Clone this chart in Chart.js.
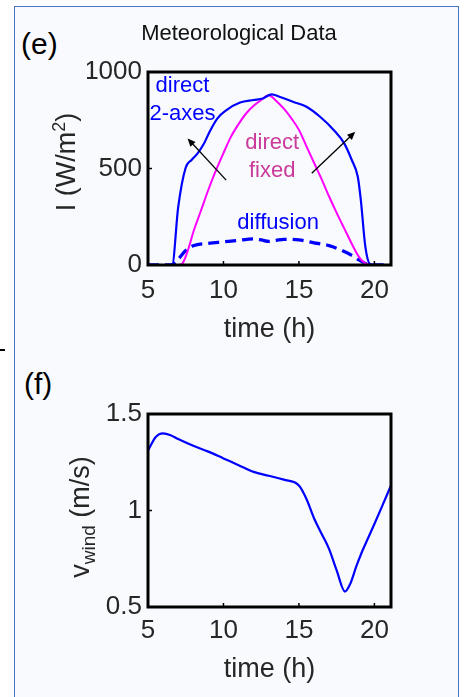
<!DOCTYPE html>
<html>
<head>
<title>Meteorological Data</title>
<script src="https://cdn.jsdelivr.net/npm/chart.js@4.4.0/dist/chart.umd.min.js"></script>
<style>
    body { margin: 0; width: 465px; height: 697px; overflow: hidden; position: relative; background: #fff;
           font-family: "Liberation Sans", Arial, sans-serif; }
    .frame { position: absolute; left: 14px; top: 6px; width: 443px; height: 720px;
             border: 1px solid #4a72c4; background: #f9fafd; }
    .dash { position: absolute; left: 0; top: 349px; width: 5px; height: 2px; background: #000; }
    .panel { position: absolute; font-size: 30px; line-height: 1; color: #000; }
    canvas { position: absolute; left: 0; }
</style>
</head>
<body>
<div class="frame"></div>
<div class="dash"></div>
<div class="panel" style="left:21px; top:29px;">(e)</div>
<div class="panel" style="left:24px; top:369px;">(f)</div>
<canvas id="irr_chart" style="top:0" width="465" height="350"></canvas>
<canvas id="wind_chart" style="top:350px" width="465" height="347"></canvas>

<script>
    // time axis ticks (h)
    const timeTicks = [5, 10, 15, 20];
    const irrTicks = [0, 500, 1000];
    const windTicks = [0.5, 1, 1.5];

    // direct irradiance, 2-axes tracking (W/m2)
    const twoAxesTime = [5, 6, 6.6, 7.0, 7.5, 7.9, 8.3, 8.7, 9.1, 9.6, 10.2, 11.1, 12.0, 12.6, 13.2, 13.7, 14.6, 15.5, 16.4, 17.3, 18.0, 18.5, 18.9, 19.1, 19.4, 19.7, 20, 21.1];
    const twoAxesIrr  = [0, 0, 0, 300, 505, 545, 580, 628, 693, 760, 803, 842, 855, 863, 884, 872, 846, 820, 768, 700, 630, 544, 457, 337, 95, 5, 0, 0];

    // direct irradiance, fixed panel (W/m2)
    const fixedTime = [5, 7, 7.3, 7.7, 8.0, 8.5, 9, 9.5, 10, 10.5, 11, 11.5, 12, 12.5, 13, 13.5, 14, 14.5, 15, 15.5, 16, 16.5, 17, 17.5, 18, 18.5, 19, 19.5, 20, 21.1];
    const fixedIrr  = [0, 0, 10, 90, 170, 280, 390, 490, 580, 665, 730, 785, 825, 855, 880, 850, 810, 760, 700, 615, 530, 445, 355, 270, 190, 110, 40, 5, 0, 0];

    // diffuse irradiance (W/m2)
    const diffTime = [5, 6.5, 7, 7.5, 8, 9, 10, 11, 12, 12.5, 13, 13.5, 14, 15, 16, 17, 18, 18.5, 19, 19.5, 20, 21.1];
    const diffIrr  = [0, 0, 30, 75, 100, 112, 120, 128, 135, 130, 122, 128, 133, 130, 115, 100, 70, 50, 25, 5, 0, 0];

    // wind speed (m/s)
    const windTime  = [5, 5.5, 6, 6.5, 7, 8, 9, 10, 11, 12, 13, 14, 15, 15.5, 16, 16.5, 17, 17.5, 18.05, 18.4, 18.8, 19.2, 19.6, 20.0, 20.5, 21.1];
    const windSpeed = [1.31, 1.38, 1.40, 1.39, 1.37, 1.335, 1.305, 1.27, 1.235, 1.20, 1.18, 1.16, 1.13, 1.06, 0.96, 0.88, 0.80, 0.69, 0.58, 0.62, 0.71, 0.79, 0.86, 0.93, 1.02, 1.13];

    const BLUE = '#0000ff';
    const MAGENTA = '#ff00ff';
    const TEXT = '#262626';

    Chart.defaults.font.family = '"Liberation Sans", Arial, sans-serif';
    Chart.defaults.color = TEXT;

    function pts(xs, ys) {
        return xs.map((x, i) => ({ x: x, y: ys[i] }));
    }

    // text and arrows inside the irradiance plot, in data units
    const notes = [
        { text: 'direct', x: 5.5, y: 930, color: BLUE, align: 'left' },
        { text: '2-axes', x: 5.1, y: 782, color: BLUE, align: 'left' },
        { text: 'direct', x: 13.23, y: 632, color: '#c93a9b', align: 'center' },
        { text: 'fixed', x: 13.23, y: 487, color: '#c93a9b', align: 'center' },
        { text: 'diffusion', x: 13.62, y: 218, color: BLUE, align: 'center' }
    ];
    const arrows = [
        { from: [10.18, 440], to: [7.62, 656] },
        { from: [15.85, 475], to: [18.73, 690] }
    ];

    const boxPlugin = {
        id: 'box',
        afterDatasetsDraw(chart) {
            const { ctx, chartArea: a, scales } = chart;
            ctx.save();
            ctx.strokeStyle = '#000';
            ctx.lineWidth = 1.5;
            ctx.beginPath();
            scales.x.ticks.forEach(t => {
                const px = scales.x.getPixelForValue(t.value);
                ctx.moveTo(px, a.bottom);
                ctx.lineTo(px, a.bottom - 4);
            });
            scales.y.ticks.forEach(t => {
                const py = scales.y.getPixelForValue(t.value);
                ctx.moveTo(a.left, py);
                ctx.lineTo(a.left + 4, py);
            });
            ctx.stroke();
            ctx.lineWidth = 3;
            ctx.strokeRect(a.left, a.top, a.right - a.left, a.bottom - a.top);
            ctx.restore();
        }
    };

    const notesPlugin = {
        id: 'notes',
        afterDatasetsDraw(chart) {
            const { ctx, scales } = chart;
            ctx.save();
            ctx.font = '22px "Liberation Sans", Arial, sans-serif';
            ctx.textBaseline = 'middle';
            notes.forEach(n => {
                ctx.fillStyle = n.color;
                ctx.textAlign = n.align;
                ctx.fillText(n.text, scales.x.getPixelForValue(n.x), scales.y.getPixelForValue(n.y));
            });
            ctx.strokeStyle = '#000';
            ctx.fillStyle = '#000';
            ctx.lineWidth = 1.3;
            arrows.forEach(ar => {
                const x0 = scales.x.getPixelForValue(ar.from[0]), y0 = scales.y.getPixelForValue(ar.from[1]);
                const x1 = scales.x.getPixelForValue(ar.to[0]), y1 = scales.y.getPixelForValue(ar.to[1]);
                const ang = Math.atan2(y1 - y0, x1 - x0);
                ctx.beginPath();
                ctx.moveTo(x0, y0);
                ctx.lineTo(x1 - 6 * Math.cos(ang), y1 - 6 * Math.sin(ang));
                ctx.stroke();
                ctx.beginPath();
                ctx.moveTo(x1, y1);
                ctx.lineTo(x1 - 8 * Math.cos(ang) + 3.5 * Math.sin(ang), y1 - 8 * Math.sin(ang) - 3.5 * Math.cos(ang));
                ctx.lineTo(x1 - 8 * Math.cos(ang) - 3.5 * Math.sin(ang), y1 - 8 * Math.sin(ang) + 3.5 * Math.cos(ang));
                ctx.closePath();
                ctx.fill();
            });
            ctx.restore();
        }
    };

    // y axis title, drawn by hand so it can carry a subscript / superscript
    function yTitlePlugin(parts, cx, cy) {
        return {
            id: 'ytitle',
            afterDraw(chart) {
                const ctx = chart.ctx;
                ctx.save();
                ctx.fillStyle = TEXT;
                ctx.textBaseline = 'middle';
                ctx.textAlign = 'left';
                let total = 0;
                parts.forEach(p => {
                    ctx.font = p.size + 'px "Liberation Sans", Arial, sans-serif';
                    p.w = ctx.measureText(p.text).width;
                    total += p.w;
                });
                ctx.translate(cx, cy);
                ctx.rotate(-Math.PI / 2);
                let x = -total / 2;
                parts.forEach(p => {
                    ctx.font = p.size + 'px "Liberation Sans", Arial, sans-serif';
                    ctx.fillText(p.text, x, p.shift);
                    x += p.w;
                });
                ctx.restore();
            }
        };
    }

    function fixedTicks(values) {
        return scale => { scale.ticks = values.map(v => ({ value: v })); };
    }

    function xScale(tickPad, titlePad, height) {
        return {
            type: 'linear',
            min: 5,
            max: 21.1,
            afterBuildTicks: fixedTicks(timeTicks),
            afterFit: s => { s.height = height; s.paddingLeft = 0; s.paddingRight = 0; },
            grid: { display: false, drawTicks: false },
            border: { display: false },
            ticks: { padding: tickPad, font: { size: 26 }, color: TEXT },
            title: { display: true, text: 'time (h)', font: { size: 27 }, color: TEXT, padding: { top: 0, bottom: titlePad } }
        };
    }

    function yScale(min, max, values) {
        return {
            type: 'linear',
            min: min,
            max: max,
            afterBuildTicks: fixedTicks(values),
            afterFit: s => { s.width = 61; s.paddingTop = 0; s.paddingBottom = 0; },
            grid: { display: false, drawTicks: false },
            border: { display: false },
            ticks: { padding: 6, font: { size: 26 }, color: TEXT, callback: v => String(v) }
        };
    }

    new Chart(document.getElementById('irr_chart'), {
        type: 'line',
        data: {
            datasets: [
                { label: 'direct 2-axes', data: pts(twoAxesTime, twoAxesIrr), borderColor: BLUE, borderWidth: 2.2 },
                { label: 'direct fixed', data: pts(fixedTime, fixedIrr), borderColor: MAGENTA, borderWidth: 2 },
                { label: 'diffusion', data: pts(diffTime, diffIrr), borderColor: BLUE, borderWidth: 3.3, borderDash: [11, 6] }
            ]
        },
        options: {
            responsive: false,
            animation: false,
            cubicInterpolationMode: 'monotone',
            elements: { point: { radius: 0 } },
            layout: { padding: { left: 87, right: 74, top: 0, bottom: 0 } },
            plugins: {
                legend: { display: false },
                tooltip: { enabled: false },
                title: {
                    display: true,
                    text: 'Meteorological Data',
                    color: '#111',
                    font: { size: 22, weight: 'normal' },
                    padding: { top: 21, bottom: 24.6 }
                }
            },
            scales: {
                x: xScale(10, 4, 85),
                y: yScale(0, 1000, irrTicks)
            }
        },
        plugins: [notesPlugin, boxPlugin, yTitlePlugin([
            { text: 'I (W/m', size: 27, shift: 0 },
            { text: '2', size: 18, shift: -8 },
            { text: ')', size: 27, shift: 0 }
        ], 68, 162)]
    });

    new Chart(document.getElementById('wind_chart'), {
        type: 'line',
        data: {
            datasets: [
                { label: 'wind', data: pts(windTime, windSpeed), borderColor: BLUE, borderWidth: 2.2 }
            ]
        },
        options: {
            responsive: false,
            animation: false,
            cubicInterpolationMode: 'monotone',
            elements: { point: { radius: 0 } },
            layout: { padding: { left: 87, right: 74, top: 64, bottom: 0 } },
            plugins: {
                legend: { display: false },
                tooltip: { enabled: false }
            },
            scales: {
                x: xScale(8.5, 10.8, 90),
                y: yScale(0.5, 1.5, windTicks)
            }
        },
        plugins: [boxPlugin, yTitlePlugin([
            { text: 'v', size: 27, shift: 0 },
            { text: 'wind', size: 19, shift: 8 },
            { text: ' (m/s)', size: 27, shift: 0 }
        ], 82, 167)]
    });
</script>
</body>
</html>
